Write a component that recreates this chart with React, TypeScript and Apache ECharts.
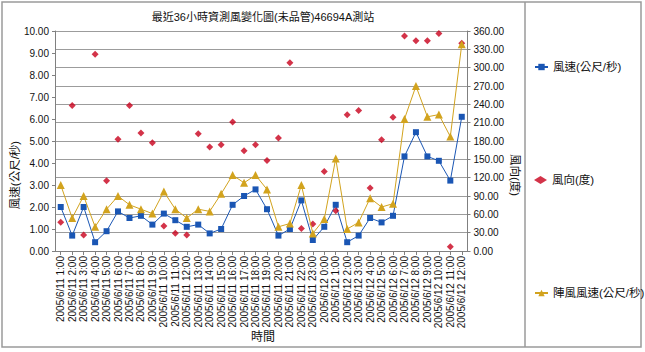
import React, { useEffect, useRef } from "react";
import * as echarts from "echarts";

const categories = [
  "2005/6/11 1:00", "2005/6/11 2:00", "2005/6/11 3:00", "2005/6/11 4:00", "2005/6/11 5:00", "2005/6/11 6:00",
  "2005/6/11 7:00", "2005/6/11 8:00", "2005/6/11 9:00", "2005/6/11 10:00", "2005/6/11 11:00", "2005/6/11 12:00",
  "2005/6/11 13:00", "2005/6/11 14:00", "2005/6/11 15:00", "2005/6/11 16:00", "2005/6/11 17:00", "2005/6/11 18:00",
  "2005/6/11 19:00", "2005/6/11 20:00", "2005/6/11 21:00", "2005/6/11 22:00", "2005/6/11 23:00", "2005/6/12 0:00",
  "2005/6/12 1:00", "2005/6/12 2:00", "2005/6/12 3:00", "2005/6/12 4:00", "2005/6/12 5:00", "2005/6/12 6:00",
  "2005/6/12 7:00", "2005/6/12 8:00", "2005/6/12 9:00", "2005/6/12 10:00", "2005/6/12 11:00", "2005/6/12 12:00",
];

const windSpeed = [
  2.0, 0.7, 2.0, 0.4, 0.9, 1.8, 1.5, 1.6, 1.2, 1.7,
  1.4, 1.1, 1.2, 0.8, 1.0, 2.1, 2.5, 2.8, 1.9, 0.7,
  1.0, 2.3, 0.5, 1.1, 2.1, 0.4, 0.7, 1.5, 1.3, 1.6,
  4.3, 5.4, 4.3, 4.1, 3.2, 6.1,
];

const windDir = [
  47, 238, 26, 322, 115, 183, 238, 193, 177, 41,
  29, 26, 192, 170, 174, 211, 164, 174, 148, 185,
  308, 37, 44, 130, 66, 223, 230, 103, 182, 219,
  352, 344, 344, 356, 7, 340,
];

const gustSpeed = [
  3.0, 1.5, 2.5, 1.1, 1.9, 2.5, 2.1, 1.9, 1.7, 2.7,
  1.9, 1.5, 1.9, 1.8, 2.6, 3.45, 3.1, 3.45, 2.8, 1.1,
  1.25, 3.0, 0.8, 1.45, 4.2, 1.0, 1.3, 2.4, 2.0, 2.15,
  6.0, 7.5, 6.1, 6.2, 5.2, 9.4,
];

const seriesNames = ["風速(公尺/秒)", "風向(度)", "陣風風速(公尺/秒)"];
const titleText = "最近36小時資測風變化圖(未品管)46694A測站";
const leftAxisName = "風速(公尺/秒)";
const rightAxisName = "風向(度)";
const xAxisName = "時間";

const FONT = '"Liberation Sans", "Noto Sans CJK TC", sans-serif';
const BLUE = "#1a56b4";
const RED = "#c8001c";
const GOLD = "#d2a31e";

export default function App() {
  const ref = useRef<HTMLDivElement>(null);
  useEffect(() => {
    if (!ref.current) return;
    const chart = echarts.init(ref.current, undefined, { renderer: "svg" });
    const legendBase = {
      orient: "vertical",
      left: 529,
      itemWidth: 13,
      itemHeight: 8,
      itemGap: 10,
      textStyle: { fontFamily: FONT, fontSize: 11.5, color: "#111", lineHeight: 14 },
    };
    chart.setOption({
      animation: false,
      backgroundColor: "#fff",
      textStyle: { fontFamily: FONT },
      grid: { left: 55, right: 177.5, top: 31, bottom: 101, containLabel: false },
      legend: [
        { ...legendBase, top: 55, data: [seriesNames[0]] },
        { ...legendBase, top: 168, data: [seriesNames[1]] },
        { ...legendBase, top: 281, data: [seriesNames[2]] },
      ],
      xAxis: {
        type: "category",
        data: categories,
        boundaryGap: true,
        axisLine: { show: true, lineStyle: { color: "#808080", width: 1 } },
        axisTick: { show: true, alignWithLabel: true, length: 4, lineStyle: { color: "#808080" } },
        axisLabel: { rotate: 90, interval: 0, fontSize: 10, color: "#111", margin: 5, fontFamily: FONT },
        splitLine: { show: false },
      },
      yAxis: [
        {
          type: "value",
          min: 0,
          max: 10,
          interval: 1,
          position: "left",
          axisLine: { show: true, lineStyle: { color: "#808080" } },
          axisTick: { show: true, length: 3, lineStyle: { color: "#808080" } },
          axisLabel: { fontSize: 10, color: "#111", margin: 6, formatter: (v: number) => v.toFixed(2), fontFamily: FONT },
          splitLine: { show: false },
        },
        {
          type: "value",
          min: 0,
          max: 360,
          interval: 30,
          position: "right",
          axisLine: { show: true, lineStyle: { color: "#808080" } },
          axisTick: { show: true, length: 3, lineStyle: { color: "#808080" } },
          axisLabel: { fontSize: 10, color: "#111", margin: 6, formatter: (v: number) => v.toFixed(2), fontFamily: FONT },
          splitLine: { show: true, lineStyle: { color: "#9c9c9c", width: 1 } },
        },
      ],
      series: [
        {
          name: seriesNames[0],
          type: "line",
          yAxisIndex: 0,
          data: windSpeed,
          symbol: "rect",
          symbolSize: 6,
          lineStyle: { color: BLUE, width: 1 },
          itemStyle: { color: BLUE },
          z: 2,
        },
        {
          name: seriesNames[1],
          type: "scatter",
          yAxisIndex: 1,
          data: windDir,
          symbol: "diamond",
          symbolSize: 7,
          itemStyle: { color: RED },
          z: 3,
        },
        {
          name: seriesNames[2],
          type: "line",
          yAxisIndex: 0,
          data: gustSpeed,
          symbol: "triangle",
          symbolSize: 8,
          lineStyle: { color: GOLD, width: 1 },
          itemStyle: { color: GOLD },
          z: 4,
        },
      ],
      graphic: [
        {
          type: "rect",
          shape: { x: 2, y: 2, width: 639, height: 345 },
          style: { fill: "none", stroke: "#9a9a9a", lineWidth: 1.5 },
          silent: true,
        },
        {
          type: "line",
          shape: { x1: 525, y1: 2, x2: 525, y2: 347 },
          style: { stroke: "#9a9a9a", lineWidth: 1.5 },
          silent: true,
        },
        {
          type: "text",
          x: 263,
          y: 17,
          style: {
            text: titleText,
            fontFamily: FONT,
            fontSize: 11,
            fill: "#111",
            align: "center",
            verticalAlign: "middle",
          },
        },
        {
          type: "text",
          x: 14.5,
          y: 175,
          rotation: Math.PI / 2,
          style: {
            text: leftAxisName,
            fontFamily: FONT,
            fontSize: 11.5,
            fill: "#111",
            align: "center",
            verticalAlign: "middle",
          },
        },
        {
          type: "text",
          x: 515,
          y: 175,
          rotation: -Math.PI / 2,
          style: {
            text: rightAxisName,
            fontFamily: FONT,
            fontSize: 11.5,
            fill: "#111",
            align: "center",
            verticalAlign: "middle",
          },
        },
        {
          type: "text",
          x: 263,
          y: 337,
          style: {
            text: xAxisName,
            fontFamily: FONT,
            fontSize: 12,
            fill: "#111",
            align: "center",
            verticalAlign: "middle",
          },
        },
      ],
    });
    return () => chart.dispose();
  }, []);
  return (
    <div
      ref={ref}
      style={{ position: "fixed", left: 0, top: 0, width: 645, height: 352 }}
    />
  );
}
